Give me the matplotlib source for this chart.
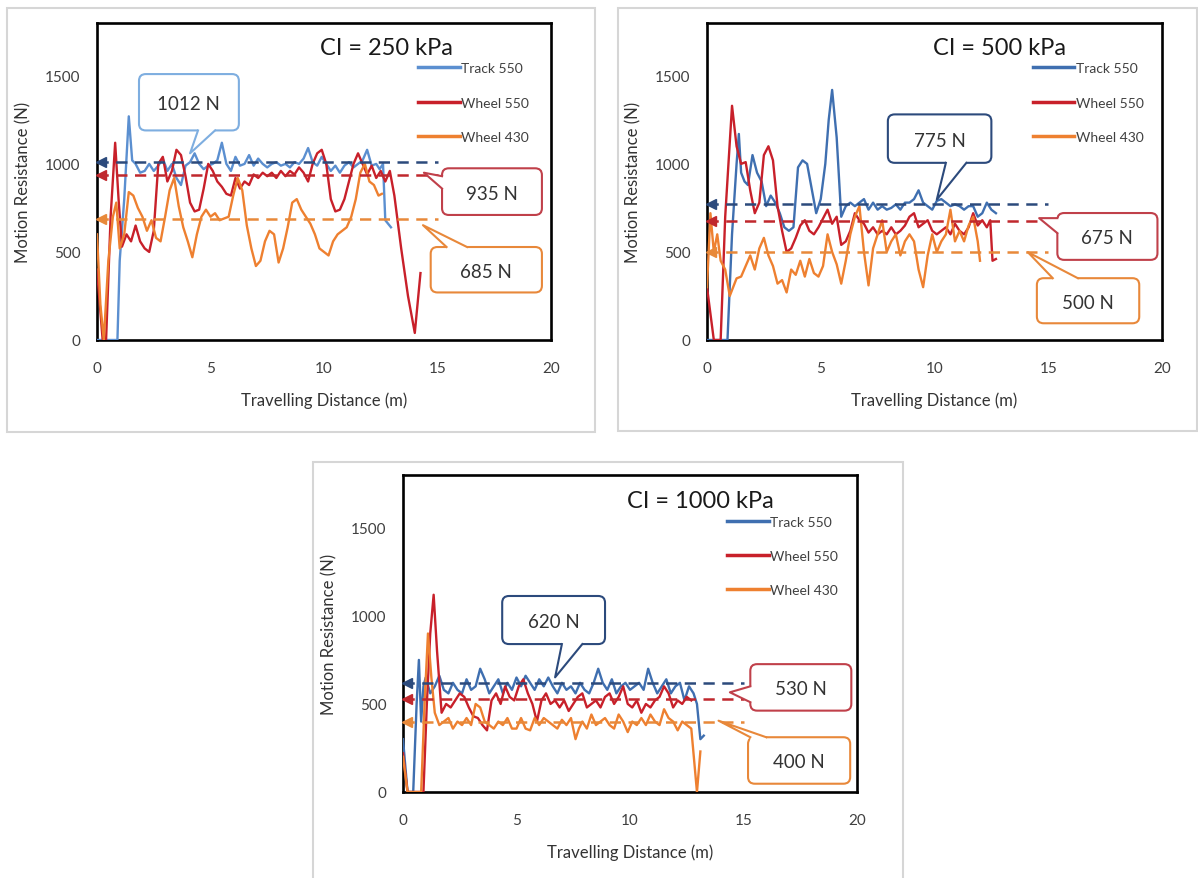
import matplotlib
matplotlib.use("Agg")
import matplotlib.pyplot as plt
from matplotlib.patches import FancyBboxPatch, Rectangle, Polygon

plt.rcParams['font.family'] = ['Lato', 'DejaVu Sans']

# ---------------- data ----------------
series_names = ['Track 550', 'Wheel 550', 'Wheel 430']

# CI = 250 kPa
ci250_track_x = [0, 0.9, 1.0, 1.2, 1.4, 1.55, 1.7, 1.9, 2.1, 2.3,
                 2.5, 2.7, 2.9, 3.1, 3.3, 3.5, 3.7, 3.9, 4.1, 4.3,
                 4.5, 4.7, 4.9, 5.1, 5.3, 5.5, 5.7, 5.9, 6.1, 6.3,
                 6.5, 6.7, 6.9, 7.1, 7.3, 7.5, 7.7, 7.9, 8.1, 8.3,
                 8.5, 8.7, 8.9, 9.1, 9.3, 9.5, 9.7, 9.9, 10.1, 10.3,
                 10.5, 10.7, 10.9, 11.1, 11.3, 11.5, 11.7, 11.9, 12.1, 12.3,
                 12.45, 12.6, 12.7, 12.95]
ci250_track_y = [0, 0, 450, 800, 1270, 1020, 1000, 950, 960, 1000,
                 960, 990, 1030, 960, 1000, 920, 880, 990, 1010, 1060,
                 1000, 970, 990, 1000, 1020, 1120, 1000, 960, 1040, 990,
                 1000, 1050, 990, 1030, 1000, 980, 1000, 1010, 990, 1000,
                 980, 1010, 1000, 1030, 1090, 1010, 990, 1040, 1000, 960,
                 990, 950, 990, 1010, 980, 1000, 1020, 1080, 990, 1000,
                 970, 1000, 680, 640]
ci250_w550_x = [0, 0.25, 0.4, 0.6, 0.8, 0.95, 1.1, 1.3, 1.5, 1.7,
                1.9, 2.1, 2.3, 2.5, 2.7, 2.9, 3.1, 3.3, 3.5, 3.7,
                3.9, 4.1, 4.3, 4.5, 4.7, 4.9, 5.1, 5.3, 5.5, 5.7,
                5.9, 6.1, 6.3, 6.5, 6.7, 6.9, 7.1, 7.3, 7.5, 7.7,
                7.9, 8.1, 8.3, 8.5, 8.7, 8.9, 9.1, 9.3, 9.5, 9.7,
                9.9, 10.1, 10.3, 10.5, 10.7, 10.9, 11.1, 11.3, 11.5, 11.7,
                11.9, 12.1, 12.3, 12.5, 12.7, 12.9, 13.1, 13.4, 13.7, 14.0,
                14.25]
ci250_w550_y = [400, 0, 0, 700, 1120, 800, 530, 600, 560, 650,
                560, 520, 500, 620, 1000, 1040, 900, 960, 1080, 1050,
                930, 780, 730, 740, 860, 1000, 960, 900, 870, 830,
                820, 920, 860, 900, 880, 940, 920, 950, 930, 950,
                920, 960, 930, 960, 940, 980, 950, 900, 1000, 1060,
                1080, 1000, 800, 730, 740, 800, 900, 1000, 1060, 1000,
                940, 990, 920, 960, 900, 960, 820, 520, 250, 40,
                380]
ci250_w430_x = [0, 0.15, 0.3, 0.5, 0.7, 0.85, 1.0, 1.2, 1.4, 1.6,
                1.8, 2.0, 2.2, 2.4, 2.6, 2.8, 3.0, 3.2, 3.4, 3.6,
                3.8, 4.0, 4.2, 4.4, 4.6, 4.8, 5.0, 5.2, 5.4, 5.6,
                5.8, 6.0, 6.2, 6.4, 6.6, 6.8, 7.0, 7.2, 7.4, 7.6,
                7.8, 8.0, 8.2, 8.4, 8.6, 8.8, 9.0, 9.2, 9.4, 9.6,
                9.8, 10.0, 10.2, 10.4, 10.6, 10.8, 11.0, 11.2, 11.4, 11.6,
                11.8, 12.0, 12.2, 12.4, 12.55]
ci250_w430_y = [600, 200, 0, 450, 700, 780, 520, 600, 840, 820,
                750, 700, 620, 680, 580, 560, 700, 850, 920, 760,
                640, 560, 470, 600, 700, 740, 700, 720, 680, 690,
                700, 820, 920, 850, 650, 520, 420, 450, 560, 620,
                600, 440, 520, 640, 780, 800, 740, 700, 660, 600,
                520, 500, 480, 560, 600, 620, 640, 700, 800, 950,
                1000, 900, 880, 820, 830]

# CI = 500 kPa
ci500_track_x = [0, 0.9, 1.1, 1.3, 1.4, 1.5, 1.65, 1.8, 2.0, 2.2,
                 2.4, 2.6, 2.8, 3.0, 3.2, 3.4, 3.6, 3.8, 4.0, 4.2,
                 4.4, 4.6, 4.8, 5.0, 5.2, 5.35, 5.5, 5.7, 5.9, 6.1,
                 6.3, 6.5, 6.7, 6.9, 7.1, 7.3, 7.5, 7.7, 7.9, 8.1,
                 8.3, 8.5, 8.7, 8.9, 9.1, 9.3, 9.5, 9.7, 9.9, 10.1,
                 10.3, 10.5, 10.7, 10.9, 11.1, 11.3, 11.5, 11.7, 11.9, 12.1,
                 12.3, 12.5, 12.7]
ci500_track_y = [0, 0, 600, 1000, 1170, 950, 900, 880, 1050, 950,
                 900, 760, 820, 780, 720, 640, 620, 640, 980, 1020,
                 1000, 860, 720, 800, 1000, 1250, 1420, 1150, 700, 760,
                 780, 760, 780, 800, 740, 780, 740, 760, 740, 750,
                 770, 740, 780, 780, 800, 850, 780, 760, 740, 790,
                 800, 780, 760, 770, 760, 740, 760, 760, 700, 720,
                 780, 740, 720]
ci500_w550_x = [0, 0.3, 0.6, 0.8, 1.1, 1.3, 1.5, 1.7, 1.9, 2.1,
                2.3, 2.5, 2.7, 2.9, 3.1, 3.3, 3.5, 3.7, 3.9, 4.1,
                4.3, 4.5, 4.7, 4.9, 5.1, 5.3, 5.5, 5.7, 5.9, 6.1,
                6.3, 6.5, 6.7, 6.9, 7.1, 7.3, 7.5, 7.7, 7.9, 8.1,
                8.3, 8.5, 8.7, 8.9, 9.1, 9.3, 9.5, 9.7, 9.9, 10.1,
                10.3, 10.5, 10.7, 10.9, 11.1, 11.3, 11.5, 11.7, 11.9, 12.1,
                12.3, 12.45, 12.55, 12.7]
ci500_w550_y = [300, 0, 0, 700, 1330, 1100, 1000, 1010, 850, 720,
                780, 1050, 1100, 1020, 760, 620, 500, 520, 580, 650,
                680, 620, 600, 640, 690, 740, 660, 700, 540, 560,
                620, 720, 680, 660, 610, 640, 600, 620, 600, 640,
                600, 620, 650, 700, 720, 640, 660, 680, 620, 600,
                620, 640, 600, 660, 620, 600, 640, 720, 650, 680,
                640, 680, 450, 460]
ci500_w430_x = [0, 0.15, 0.3, 0.45, 0.6, 0.8, 1.0, 1.15, 1.3, 1.5,
                1.7, 1.9, 2.1, 2.3, 2.5, 2.7, 2.9, 3.1, 3.3, 3.5,
                3.7, 3.9, 4.1, 4.3, 4.5, 4.7, 4.9, 5.1, 5.3, 5.5,
                5.7, 5.9, 6.1, 6.3, 6.5, 6.7, 6.9, 7.1, 7.3, 7.5,
                7.7, 7.9, 8.1, 8.3, 8.5, 8.7, 8.9, 9.1, 9.3, 9.5,
                9.7, 9.9, 10.1, 10.3, 10.5, 10.7, 10.9, 11.1, 11.3, 11.5,
                11.7, 11.9, 12.0]
ci500_w430_y = [300, 720, 500, 600, 450, 400, 250, 300, 350, 360,
                420, 480, 400, 520, 580, 480, 420, 320, 340, 270,
                400, 370, 450, 360, 460, 380, 360, 420, 600, 500,
                430, 320, 450, 600, 700, 760, 500, 310, 520, 600,
                680, 500, 560, 600, 480, 560, 600, 560, 400, 300,
                480, 600, 500, 560, 600, 740, 560, 620, 560, 650,
                700, 560, 450]

# CI = 1000 kPa
ci1000_track_x = [0, 0.2, 0.45, 0.6, 0.7, 0.8, 0.9, 1.0, 1.2, 1.4,
                  1.6, 1.8, 2.0, 2.2, 2.4, 2.6, 2.8, 3.0, 3.2, 3.4,
                  3.6, 3.8, 4.0, 4.2, 4.4, 4.6, 4.8, 5.0, 5.2, 5.4,
                  5.6, 5.8, 6.0, 6.2, 6.4, 6.6, 6.8, 7.0, 7.2, 7.4,
                  7.6, 7.8, 8.0, 8.2, 8.4, 8.6, 8.8, 9.0, 9.2, 9.4,
                  9.6, 9.8, 10.0, 10.2, 10.4, 10.6, 10.8, 11.0, 11.2, 11.4,
                  11.6, 11.8, 12.0, 12.2, 12.4, 12.6, 12.8, 12.95, 13.1, 13.25]
ci1000_track_y = [300, 0, 0, 500, 750, 400, 600, 650, 560, 600,
                  660, 580, 560, 620, 580, 560, 640, 580, 600, 700,
                  640, 560, 600, 640, 560, 620, 580, 650, 600, 660,
                  620, 580, 640, 600, 650, 600, 560, 620, 580, 600,
                  560, 620, 580, 560, 620, 700, 620, 580, 640, 560,
                  600, 620, 580, 600, 620, 580, 700, 620, 560, 600,
                  640, 560, 600, 620, 520, 600, 560, 500, 300, 320]
ci1000_w550_x = [0, 0.2, 0.5, 0.9, 1.05, 1.2, 1.35, 1.5, 1.7, 1.9,
                 2.1, 2.3, 2.5, 2.7, 2.9, 3.1, 3.3, 3.5, 3.7, 3.9,
                 4.1, 4.3, 4.5, 4.7, 4.9, 5.1, 5.3, 5.5, 5.7, 5.9,
                 6.1, 6.3, 6.5, 6.7, 6.9, 7.1, 7.3, 7.5, 7.7, 7.9,
                 8.1, 8.3, 8.5, 8.7, 8.9, 9.1, 9.3, 9.5, 9.7, 9.9,
                 10.1, 10.3, 10.5, 10.7, 10.9, 11.1, 11.3, 11.5, 11.7, 11.9,
                 12.1, 12.3, 12.5, 12.7]
ci1000_w550_y = [220, 0, 0, 0, 500, 900, 1120, 800, 450, 500,
                 480, 520, 560, 540, 480, 430, 420, 380, 350, 520,
                 560, 500, 600, 540, 520, 600, 640, 560, 500, 400,
                 520, 560, 500, 520, 480, 520, 460, 500, 540, 560,
                 480, 500, 520, 480, 540, 560, 500, 540, 600, 500,
                 480, 520, 450, 500, 480, 520, 540, 600, 560, 480,
                 520, 500, 540, 520]
ci1000_w430_x = [0, 0.2, 0.5, 0.8, 0.95, 1.1, 1.25, 1.4, 1.6, 1.8,
                 2.0, 2.2, 2.4, 2.6, 2.8, 3.0, 3.2, 3.4, 3.6, 3.8,
                 4.0, 4.2, 4.4, 4.6, 4.8, 5.0, 5.2, 5.4, 5.6, 5.8,
                 6.0, 6.2, 6.4, 6.6, 6.8, 7.0, 7.2, 7.4, 7.6, 7.75,
                 7.9, 8.1, 8.3, 8.5, 8.7, 8.9, 9.1, 9.3, 9.5, 9.7,
                 9.9, 10.1, 10.3, 10.5, 10.7, 10.9, 11.1, 11.3, 11.5, 11.7,
                 11.9, 12.1, 12.3, 12.5, 12.7, 12.95, 13.1]
ci1000_w430_y = [200, 0, 0, 0, 500, 900, 650, 450, 380, 400,
                 420, 360, 400, 380, 420, 380, 500, 480, 400, 380,
                 360, 400, 380, 420, 360, 360, 420, 360, 350, 420,
                 380, 420, 400, 380, 360, 410, 380, 420, 300, 360,
                 400, 360, 440, 380, 400, 420, 380, 360, 440, 400,
                 340, 400, 380, 420, 380, 440, 400, 380, 470, 420,
                 400, 350, 400, 380, 360, 0, 230]

ci_titles = ['CI = 250 kPa', 'CI = 500 kPa', 'CI = 1000 kPa']
mean_250 = [1012, 935, 685]
mean_500 = [775, 675, 500]
mean_1000 = [620, 530, 400]

# ---------------- styling ----------------
W, H = 1198, 879
ASPECT = 127.5   # N per metre on screen (for round corners)
line_cols = {
    0: ['#5b8fd0', '#c8202a', '#ee8030'],
    1: ['#3f6fb0', '#c8202a', '#ee8030'],
    2: ['#3f6fb0', '#c8202a', '#ee8030'],
}
dash_cols = ['#2c4a7c', '#c0282d', '#e8893a']


def fig_rect(l, t, r, b):
    return [l / W, 1 - b / H, (r - l) / W, (b - t) / H]


def callout(ax, text, box, tip, base, color):
    x0, x1, y0, y1 = box
    ax.add_patch(FancyBboxPatch((x0, y0), x1 - x0, y1 - y0,
                                boxstyle='round,pad=0,rounding_size=0.3',
                                mutation_aspect=ASPECT, fc='white', ec=color,
                                lw=1.5, zorder=6, clip_on=False))
    cx, cy = (x0 + x1) / 2, (y0 + y1) / 2
    b1, b2 = base
    inner = []
    for bx, by in (b1, b2):
        dx = 0.12 if bx <= x0 + 1e-6 else (-0.12 if bx >= x1 - 1e-6 else 0)
        dy = 25 if by <= y0 + 1e-6 else (-25 if by >= y1 - 1e-6 else 0)
        inner.append((bx + dx, by + dy))
    ax.add_patch(Polygon([tip, b1, inner[0], inner[1], b2], closed=True,
                         fc='white', ec='none', zorder=7, clip_on=False))
    ax.plot([b1[0], tip[0], b2[0]], [b1[1], tip[1], b2[1]], color=color,
            lw=1.5, zorder=8, clip_on=False)
    ax.text(cx, cy - 8, text, ha='center', va='center', fontsize=13.5,
            color='#333333', zorder=9)


fig = plt.figure(figsize=(W / 100, H / 100), dpi=100)
fig.patch.set_facecolor('white')

# light grey frames around each panel
for (l, t, r, b) in [(7, 9, 595, 433), (618, 9, 1197, 432), (313, 463, 903, 890)]:
    fig.patches.append(Rectangle((l / W, 1 - b / H), (r - l) / W, (b - t) / H,
                                 transform=fig.transFigure, fill=False,
                                 ec='#d6d6d6', lw=1.5))

panels = [
    dict(rect=fig_rect(97, 24, 551, 341),
         data=[(ci250_track_x, ci250_track_y), (ci250_w550_x, ci250_w550_y),
               (ci250_w430_x, ci250_w430_y)],
         means=mean_250, title=ci_titles[0], tpos=(0.637, 0.924),
         leg=(0.707, 0.876),
         callouts=[
             ('1012 N', (1.85, 6.25, 1190, 1510), (4.1, 1060),
              ((4.45, 1190), (5.2, 1190)), '#7eaee0'),
             ('935 N', (15.2, 19.6, 710, 975), (14.4, 950),
              ((15.2, 930), (15.2, 860)), '#c0404a'),
             ('685 N', (14.7, 19.6, 270, 528), (14.36, 652),
              ((15.4, 528), (16.3, 528)), '#e8883a')]),
    dict(rect=fig_rect(707, 24, 1162, 341),
         data=[(ci500_track_x, ci500_track_y), (ci500_w550_x, ci500_w550_y),
               (ci500_w430_x, ci500_w430_y)],
         means=mean_500, title=ci_titles[1], tpos=(0.642, 0.924),
         leg=(0.716, 0.876),
         callouts=[
             ('775 N', (7.95, 12.5, 1006, 1281), (10.1, 797),
              ((10.5, 1006), (11.4, 1006)), '#2c4a7c'),
             ('675 N', (15.4, 19.8, 455, 721), (14.6, 692),
              ((15.4, 692), (15.4, 607)), '#c0404a'),
             ('500 N', (14.5, 19.0, 95, 351), (14.1, 499),
              ((15.2, 351), (16.3, 351)), '#e8883a')]),
    dict(rect=fig_rect(403, 476, 857, 793),
         data=[(ci1000_track_x, ci1000_track_y), (ci1000_w550_x, ci1000_w550_y),
               (ci1000_w430_x, ci1000_w430_y)],
         means=mean_1000, title=ci_titles[2], tpos=(0.656, 0.918),
         leg=(0.714, 0.872),
         callouts=[
             ('620 N', (4.37, 8.9, 840, 1113), (6.7, 651),
              ((7.0, 840), (7.9, 840)), '#2c4a7c'),
             ('530 N', (15.3, 19.75, 462, 726), (14.4, 566),
              ((15.3, 600), (15.3, 510)), '#c0404a'),
             ('400 N', (15.2, 19.7, 47, 311), (13.9, 405),
              ((15.3, 311), (16.0, 311)), '#e8883a')]),
]

for i, p in enumerate(panels):
    ax = fig.add_axes(p['rect'])
    handles = []
    for k, (xs, ys) in enumerate(p['data']):
        h, = ax.plot(xs, ys, color=line_cols[i][k], lw=1.7, zorder=3,
                     label=series_names[k])
        handles.append(h)

    # mean lines with arrow heads at the left
    for k, m in enumerate(p['means']):
        ax.plot([0, 15], [m, m], color=dash_cols[k], lw=1.8,
                dashes=(4.5, 3), zorder=4)
        ax.plot([0.18], [m], marker='<', ms=7, color=dash_cols[k],
                zorder=5, clip_on=False)

    for (txt, box, tip, base, col) in p['callouts']:
        callout(ax, txt, box, tip, base, col)

    ax.text(p['tpos'][0], p['tpos'][1], p['title'], transform=ax.transAxes,
            ha='center', va='center', fontsize=17, color='#1a1a1a')

    leg = ax.legend(handles=handles, loc='upper left', bbox_to_anchor=p['leg'],
                    frameon=False, fontsize=10, handlelength=3.0,
                    handletextpad=0.1, labelspacing=1.6, borderpad=0,
                    borderaxespad=0)
    for lh in leg.get_lines():
        lh.set_linewidth(2.5)
    for t in leg.get_texts():
        t.set_color('#404040')

    ax.set_xlim(0, 20)
    ax.set_ylim(0, 1800)
    ax.set_xticks([0, 5, 10, 15, 20])
    ax.set_yticks([0, 500, 1000, 1500])
    ax.tick_params(length=0, labelsize=11, colors='#404040')
    ax.tick_params(axis='x', pad=15)
    ax.tick_params(axis='y', pad=12)
    for sp in ax.spines.values():
        sp.set_linewidth(1.9)
        sp.set_color('black')
    ax.set_xlabel('Travelling Distance (m)', fontsize=12, color='#333333',
                  labelpad=12)
    ax.set_ylabel('Motion Resistance (N)', fontsize=12, color='#333333',
                  labelpad=10)

fig.savefig('out.png', dpi=100, facecolor='white')
